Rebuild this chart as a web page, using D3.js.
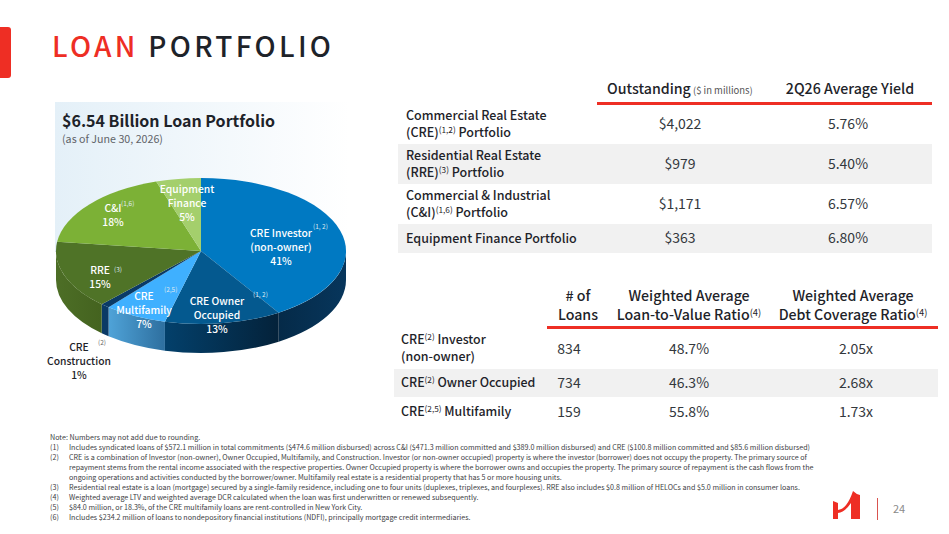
<!DOCTYPE html>
<html>
<head>
<meta charset="utf-8">
<script src="https://cdnjs.cloudflare.com/ajax/libs/d3/7.8.5/d3.min.js"></script>
<style>
html, body { margin: 0; padding: 0; background: #fff; }
svg { display: block; }
text { font-family: "Noto Sans CJK SC", "Noto Sans", sans-serif; white-space: pre; }
</style>
</head>
<body>
<div id="chart"></div>
<script>
// pie data
const categories = ['CRE Investor', 'CRE Owner Occupied', 'CRE Multifamily', 'CRE Construction', 'RRE', 'C&I', 'Equipment Finance']
const shares = [41, 13, 7, 1, 15, 18, 5]
const topColors = ['#0079c2', '#04598f', '#3fb0ff', '#0a3a66', '#4f7327', '#7cb136', '#a4cf6c']
const sideLeft = ['#052a48', '#03406b', '#4fa3d8', '#0a3a66', '#4d6e26', '#7cb136', '#a4cf6c']
const sideRight = ['#07365c', '#04223a', '#2e6f9f', '#0a3a66', '#44631f', '#7cb136', '#a4cf6c']

// table 1
const portfolioRows = [['Commercial Real Estate', '(CRE)', '(1,2)', ' Portfolio'], ['Residential Real Estate', '(RRE)', '(3)', ' Portfolio'], ['Commercial & Industrial', '(C&I)', '(1,6)', ' Portfolio'], ['Equipment Finance Portfolio']]
const outstanding = ['$4,022', '$979', '$1,171', '$363']
const avgYield = ['5.76%', '5.40%', '6.57%', '6.80%']

// table 2
const creRows = [['CRE', '(2)', ' Investor', '(non-owner)'], ['CRE', '(2)', ' Owner Occupied'], ['CRE', '(2,5)', ' Multifamily']]
const loanCounts = ['834', '734', '159']
const ltv = ['48.7%', '46.3%', '55.8%']
const dcr = ['2.05x', '2.68x', '1.73x']

const notes = [
	['', 'Note: Numbers may not add due to rounding.'],
	['(1)', 'Includes syndicated loans of $572.1 million in total commitments ($474.6 million disbursed) across C&I ($471.3 million committed and $389.0 million disbursed) and CRE ($100.8 million committed and $85.6 million disbursed)'],
	['(2)', 'CRE is a combination of Investor (non-owner), Owner Occupied, Multifamily, and Construction. Investor (or non-owner occupied) property is where the investor (borrower) does not occupy the property. The primary source of'],
	['', 'repayment stems from the rental income associated with the respective properties. Owner Occupied property is where the borrower owns and occupies the property. The primary source of repayment is the cash flows from the'],
	['', 'ongoing operations and activities conducted by the borrower/owner. Multifamily real estate is a residential property that has 5 or more housing units.'],
	['(3)', 'Residential real estate is a loan (mortgage) secured by a single-family residence, including one to four units (duplexes, triplexes, and fourplexes). RRE also includes $0.8 million of HELOCs and $5.0 million in consumer loans.'],
	['(4)', 'Weighted average LTV and weighted average DCR calculated when the loan was first underwritten or renewed subsequently.'],
	['(5)', '$84.0 million, or 18.3%, of the CRE multifamily loans are rent-controlled in New York City.'],
	['(6)', 'Includes $234.2 million of loans to nondepository financial institutions (NDFI), principally mortgage credit intermediaries.']
]

const width = 949
const height = 534
const ink = '#1e2329'
const grey = '#33383d'
const red = '#ee2e24'

const $svg = d3.select('#chart').append('svg')
	.attr('width', width)
	.attr('height', height)
	.attr('viewBox', `0 0 ${width} ${height}`)

const $defs = $svg.append('defs')

// text with optional superscripts, a part like (1,2) is raised
const isSup = p => /^\(\d/.test(p)

const addText = ($p, x, y, parts, opts = {}) => {
	const size = opts.size || 13
	const $t = $p.append('text')
		.attr('x', x)
		.attr('y', y)
		.attr('fill', opts.fill || ink)
		.attr('font-size', size)
		.attr('font-weight', opts.weight || 400)
		.attr('text-anchor', opts.anchor || 'start')
	let raised = false
	parts.forEach(p => {
		const sup = isSup(p) && opts.sup !== false
		const $s = $t.append('tspan')
			.attr('font-size', sup ? size * 0.66 : size)
			.text(p)
		if (sup) {
			$s.attr('dy', -4).attr('font-weight', 400)
			raised = true
		} else if (raised) {
			$s.attr('dy', 4)
			raised = false
		}
	})
	return $t
}

/**
 * Header
 * */
$svg.append('path')
	.attr('d', 'M0 27 H8 Q11 27 11 30 V75 Q11 78 8 78 H0 Z')
	.attr('fill', red)

const $title = $svg.append('text')
	.attr('x', 52)
	.attr('y', 57)
	.attr('font-size', 28)
	.attr('font-weight', 500)
	.attr('letter-spacing', 3.3)
$title.append('tspan').attr('font-size', 28).attr('fill', red).text('LOAN ')
$title.append('tspan').attr('font-size', 28).attr('fill', ink).text('PORTFOLIO')

/**
 * Panel behind the pie
 * */
const panelGrad = $defs.append('linearGradient').attr('id', 'panel')
panelGrad.append('stop').attr('offset', '0%').attr('stop-color', '#e4f0f8')
panelGrad.append('stop').attr('offset', '100%').attr('stop-color', '#ffffff')
$svg.append('rect')
	.attr('x', 55)
	.attr('y', 102)
	.attr('width', 295)
	.attr('height', 150)
	.attr('fill', 'url(#panel)')

addText($svg, 62, 127, ['$6.54 Billion Loan Portfolio'], {size: 16, weight: 700})
addText($svg, 62, 143, ['(as of June 30, 2026)'], {size: 10.7, fill: '#5f6368'})

/**
 * Pie
 * */
const cx = 201
const cy = 251
const rx = 145
const ry = 73
const depth = 29

const pie = d3.pie().sort(null).value(d => d)
const slices = pie(shares)

const arc = d3.arc().innerRadius(0).outerRadius(rx)

// position on the ellipse, angle from 12 o'clock
const px = a => cx + rx * Math.sin(a)
const py = a => cy - ry * Math.cos(a)

const $pie = $svg.append('g')

// side walls, only the part facing us (90 to 270 degrees)
const sides = slices.map((d, i) => {
	const start = Math.max(d.startAngle, Math.PI / 2)
	const end = Math.min(d.endAngle, Math.PI * 1.5)
	return {i, start, end}
}).filter(d => d.end > d.start)

sides.forEach(d => {
	const grad = $defs.append('linearGradient')
		.attr('id', `side${d.i}`)
		.attr('gradientUnits', 'userSpaceOnUse')
		.attr('x1', Math.min(px(d.start), px(d.end)))
		.attr('x2', Math.max(px(d.start), px(d.end)))
		.attr('y1', 0)
		.attr('y2', 0)
	grad.append('stop').attr('offset', '0%').attr('stop-color', sideLeft[d.i])
	grad.append('stop').attr('offset', '100%').attr('stop-color', sideRight[d.i])
})

$pie.selectAll('.side')
	.data(sides)
	.join('path')
	.attr('class', 'side')
	.attr('fill', d => `url(#side${d.i})`)
	.attr('d', d => `M${px(d.start)},${py(d.start)}`
		+ `A${rx},${ry} 0 0 1 ${px(d.end)},${py(d.end)}`
		+ `V${py(d.end) + depth}`
		+ `A${rx},${ry} 0 0 0 ${px(d.start)},${py(d.start) + depth}Z`)

// top of the pie, circular arcs squashed into an ellipse
$pie.append('g')
	.attr('transform', `translate(${cx},${cy}) scale(1,${ry / rx})`)
	.selectAll('.slice')
	.data(slices)
	.join('path')
	.attr('class', 'slice')
	.attr('d', arc)
	.attr('fill', (d, i) => topColors[i])

/**
 * Pie labels
 * */
const pieLabels = [
	{lines: ['CRE Investor', '(non-owner)', '41%'], x: 281, y: 237, fill: '#fff', note: '(1, 2)', nx: 313, ny: 229},
	{lines: ['CRE Owner', 'Occupied', '13%'], x: 217, y: 305, fill: '#fff', note: '(1, 2)', nx: 253, ny: 297},
	{lines: ['CRE', 'Multifamily', '7%'], x: 144, y: 300, fill: '#fff', note: '(2,5)', nx: 164, ny: 292},
	{lines: ['CRE', 'Construction', '1%'], x: 79, y: 351, fill: ink, note: '(2)', nx: 98, ny: 345},
	{lines: ['RRE', '15%'], x: 100, y: 274, fill: '#fff', note: '(3)', nx: 114, ny: 272},
	{lines: ['C&I', '18%'], x: 113, y: 212, fill: '#fff', note: '(1,6)', nx: 121, ny: 206},
	{lines: ['Equipment', 'Finance', '5%'], x: 187, y: 193, fill: '#fff'}
]
const $labels = $svg.append('g')
pieLabels.forEach(l => {
	l.lines.forEach((t, i) => {
		addText($labels, l.x, l.y + i * 14, [t], {size: 10.3, weight: 500, fill: l.fill, anchor: 'middle', sup: false})
	})
	if (l.note) {
		addText($labels, l.nx, l.ny, [l.note], {size: 6.5, fill: l.fill === ink ? '#666' : '#dfe8ef', sup: false})
	}
})

/**
 * Top table
 * */
const $t1 = $svg.append('g')
const rowTops = [105, 144, 184, 224]
const rowBottoms = [144, 184, 224, 253]

$t1.append('g').selectAll('rect')
	.data([1, 3])
	.join('rect')
	.attr('x', 398)
	.attr('y', d => rowTops[d])
	.attr('width', 534)
	.attr('height', d => rowBottoms[d] - rowTops[d])
	.attr('fill', '#f1f1f1')

$t1.append('rect').attr('x', 597).attr('y', 102).attr('width', 335).attr('height', 3).attr('fill', red)

const $h1 = $t1.append('text').attr('x', 607).attr('y', 94).attr('font-size', 14.2).attr('font-weight', 500).attr('fill', ink)
$h1.append('tspan').attr('font-size', 14.2).text('Outstanding')
$h1.append('tspan').attr('font-size', 9.5).attr('font-weight', 400).attr('fill', '#555').text(' ($ in millions)')
addText($t1, 850, 94, ['2Q26 Average Yield'], {size: 14.2, weight: 500, anchor: 'middle'})

portfolioRows.forEach((r, i) => {
	const mid = (rowTops[i] + rowBottoms[i]) / 2
	if (r.length === 1) {
		addText($t1, 406, mid + 4.5, r, {size: 12.5, weight: 500})
	} else {
		addText($t1, 406, mid - 4.5, [r[0]], {size: 12.5, weight: 500})
		addText($t1, 406, mid + 12.5, r.slice(1), {size: 12.5, weight: 500})
	}
	addText($t1, 680, mid + 4.5, [outstanding[i]], {size: 14, anchor: 'middle', fill: grey})
	addText($t1, 848, mid + 4.5, [avgYield[i]], {size: 14, anchor: 'middle', fill: grey})
})

/**
 * Bottom table
 * */
const $t2 = $svg.append('g')
$t2.append('rect').attr('x', 394).attr('y', 369).attr('width', 544).attr('height', 28).attr('fill', '#f1f1f1')
$t2.append('rect').attr('x', 547).attr('y', 326).attr('width', 391).attr('height', 3).attr('fill', red)

addText($t2, 578, 301, ['# of'], {size: 14.2, weight: 500, anchor: 'middle'})
addText($t2, 578, 320, ['Loans'], {size: 14.2, weight: 500, anchor: 'middle'})
addText($t2, 689, 301, ['Weighted Average'], {size: 14.2, weight: 500, anchor: 'middle'})
addText($t2, 689, 320, ['Loan-to-Value Ratio', '(4)'], {size: 14.2, weight: 500, anchor: 'middle'})
addText($t2, 853, 301, ['Weighted Average'], {size: 14.2, weight: 500, anchor: 'middle'})
addText($t2, 853, 320, ['Debt Coverage Ratio', '(4)'], {size: 14.2, weight: 500, anchor: 'middle'})

const rowY = [349, 387, 416]
creRows.forEach((r, i) => {
	if (i === 0) {
		addText($t2, 401, 344, r.slice(0, 3), {size: 12.4, weight: 500})
		addText($t2, 401, 361, [r[3]], {size: 12.4, weight: 500})
	} else {
		addText($t2, 401, rowY[i], r, {size: 12.4, weight: 500})
	}
	const vy = i === 0 ? 354 : rowY[i] + 0.5
	addText($t2, 569, vy, [loanCounts[i]], {size: 14, anchor: 'middle', fill: grey})
	addText($t2, 689, vy, [ltv[i]], {size: 14, anchor: 'middle', fill: grey})
	addText($t2, 856, vy, [dcr[i]], {size: 14, anchor: 'middle', fill: grey})
})

/**
 * Footnotes
 * */
const $notes = $svg.append('g')
const noteY = d3.scaleLinear().domain([0, 8]).range([440, 519.5])
notes.forEach((n, i) => {
	if (n[0]) addText($notes, 50, noteY(i), [n[0]], {size: 7.15, fill: '#3c4043', sup: false})
	addText($notes, n[0] || i > 0 ? 69 : 50, noteY(i), [n[1]], {size: 7.15, fill: '#3c4043', sup: false})
})

/**
 * Logo and page number
 * */
$svg.append('path')
	.attr('d', 'M833 501 L838 503 V510 Q847 509 853 491 Q856 494 860 495 V519 H851 V503 Q845 512 838 513 V519 H833 Z')
	.attr('fill', red)
$svg.append('rect').attr('x', 877).attr('y', 498).attr('width', 1).attr('height', 22).attr('fill', '#d9534f')
addText($svg, 893, 513, ['24'], {size: 11, fill: '#8a8a8a'})
</script>
</body>
</html>
